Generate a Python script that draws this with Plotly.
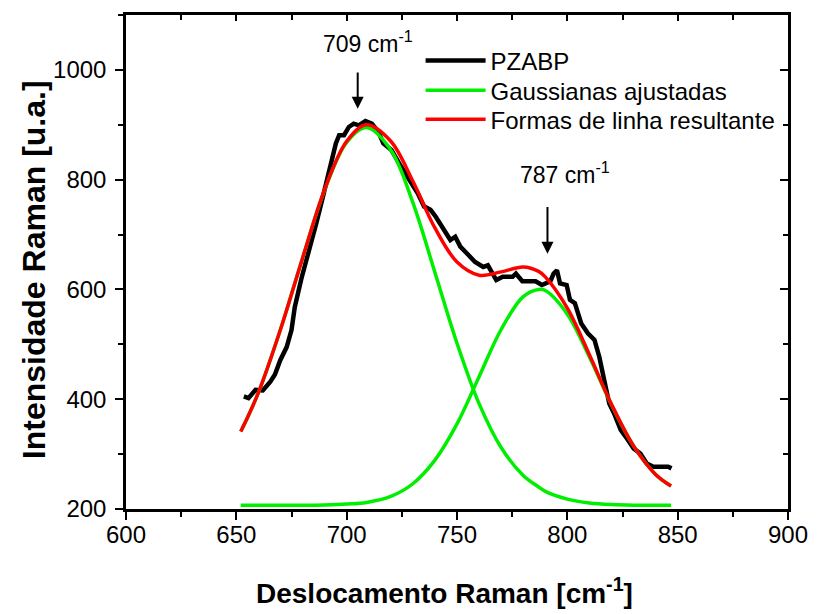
import plotly.graph_objects as go

# ---- data ----
pzabp_x = [653.4, 655.5, 658.7, 662.0, 665.4, 667.5, 669.9, 672.8, 675.0, 676.5, 679.5, 683.2,
           686.2, 689.0, 692.1, 695.1, 696.6, 698.8, 701.0, 703.2, 705.5, 708.5, 711.4, 714.4,
           716.6, 720.3, 724.8, 728.5, 732.2, 735.1, 738.0, 740.3, 744.0, 747.0, 749.2, 751.5,
           754.4, 758.2, 761.9, 764.0, 767.8, 770.7, 775.2, 776.7, 779.6, 785.6, 788.5, 792.3,
           793.8, 795.3, 796.7, 799.7, 801.2, 803.4, 806.3, 809.3, 812.3, 814.5, 816.7, 819.0,
           821.2, 824.2, 826.4, 830.1, 833.1, 836.0, 839.0, 842.7, 845.7, 847.2]
pzabp_y = [405, 402, 417, 416, 432, 445, 471, 495, 526, 568, 620, 672,
           720, 765, 817, 866, 881, 881, 896, 902, 899, 907, 902, 887,
           866, 854, 823, 799, 775, 751, 745, 733, 708, 690, 696, 678,
           666, 650, 641, 644, 617, 623, 623, 629, 615, 615, 608, 615,
           629, 635, 611, 608, 581, 575, 538, 520, 508, 477, 435, 392,
           374, 344, 332, 310, 301, 283, 277, 277, 277, 274]

fit_x = [652, 660, 670, 680, 690, 700, 709, 720, 730, 740, 750, 760, 770,
         780, 787, 790, 800, 810, 820, 830, 840, 847]
gauss1_y = [341, 412, 527, 657, 781, 868, 895, 854, 758, 631, 502, 392, 312,
            261, 240, 232, 218, 211, 208, 207, 207, 207]
gauss2_y = [207, 207, 207, 207, 207.5, 209, 212, 223, 246, 289, 355, 441, 527,
            587, 600, 598, 555, 477, 390, 315, 263, 242]
result_y = [341, 412, 527, 657, 782, 870, 900, 870, 797, 712, 650, 626, 632,
            641, 633, 623, 566, 481, 391, 315, 263, 242]

x_ticks = [600, 650, 700, 750, 800, 850, 900]
y_ticks = [200, 400, 600, 800, 1000]
peak_labels = ["709 cm<sup>-1</sup>", "787 cm<sup>-1</sup>"]
peak_arrow_x = [705, 791]
peak_arrow_tip = [929, 665]
peak_arrow_tail = [998, 753]
peak_text_x = [709.5, 799]
peak_text_y = [1050, 812]

FONT = "Liberation Sans, Arial, sans-serif"

fig = go.Figure()
fig.add_trace(go.Scatter(x=pzabp_x, y=pzabp_y, mode="lines", name="PZABP", legend="legend",
                         line=dict(color="black", width=4.5)))
fig.add_trace(go.Scatter(x=fit_x, y=gauss1_y, mode="lines", name="Gaussianas ajustadas",
                         legend="legend2", legendgroup="g",
                         line=dict(color="#00ee00", width=3.5, shape="spline")))
fig.add_trace(go.Scatter(x=fit_x, y=gauss2_y, mode="lines", name="Gaussianas ajustadas",
                         legend="legend2", legendgroup="g", showlegend=False,
                         line=dict(color="#00ee00", width=3.5, shape="spline")))
fig.add_trace(go.Scatter(x=fit_x, y=result_y, mode="lines", name="Formas de linha resultante",
                         legend="legend3",
                         line=dict(color="#ff0000", width=3.5, shape="spline")))
# dummy trace to activate mirrored axes with inward ticks
fig.add_trace(go.Scatter(x=[None], y=[None], xaxis="x2", yaxis="y2", showlegend=False,
                         hoverinfo="skip"))

for i in range(2):
    fig.add_annotation(x=peak_arrow_x[i], y=peak_arrow_tip[i], ax=peak_arrow_x[i],
                       ay=peak_arrow_tail[i], axref="x", ayref="y", xref="x", yref="y",
                       text="", showarrow=True, arrowhead=2, arrowsize=1.2, arrowwidth=2,
                       arrowcolor="black")
    fig.add_annotation(x=peak_text_x[i], y=peak_text_y[i], xref="x", yref="y",
                       text=peak_labels[i], showarrow=False,
                       font=dict(family=FONT, size=23, color="black"))

# axis titles
fig.add_annotation(x=0.4814, y=-0.166, xref="paper", yref="paper", showarrow=False,
                   xanchor="center", yanchor="middle",
                   text="<b>Deslocamento Raman [cm<sup>-1</sup>]</b>",
                   font=dict(family=FONT, size=28, color="black"))
fig.add_annotation(x=-0.1386, y=0.484, xref="paper", yref="paper", showarrow=False,
                   xanchor="center", yanchor="middle", textangle=-90,
                   text="<b>Intensidade Raman [u.a.]</b>",
                   font=dict(family=FONT, size=32, color="black"))

axis_common = dict(showline=True, linewidth=2.5, linecolor="black", showgrid=False,
                   zeroline=False, tickwidth=2, tickcolor="black", ticklen=8,
                   tickfont=dict(family=FONT, size=24, color="black"))

leg_common = dict(x=0.445, xanchor="left", yanchor="middle", bgcolor="rgba(0,0,0,0)",
                  font=dict(family=FONT, size=24, color="black"), itemwidth=60)

fig.update_layout(
    width=820, height=614,
    margin=dict(l=126, r=23, t=15, b=105),
    paper_bgcolor="white", plot_bgcolor="white",
    showlegend=True,
    legend=dict(y=0.907, **leg_common),
    legend2=dict(y=0.847, **leg_common),
    legend3=dict(y=0.788, **leg_common),
    xaxis=dict(range=[600, 900], tickvals=x_ticks, ticks="outside", ticklabelstandoff=-6,
               minor=dict(dtick=25, tick0=600, ticks="outside", ticklen=5, tickwidth=2,
                          tickcolor="black"),
               **axis_common),
    yaxis=dict(range=[200, 1100], tickvals=y_ticks, ticks="outside", ticklabelstandoff=4,
               minor=dict(dtick=100, tick0=200, ticks="outside", ticklen=5, tickwidth=2,
                          tickcolor="black"),
               **axis_common),
    xaxis2=dict(range=[600, 900], overlaying="x", side="top", anchor="y2",
                tickvals=x_ticks, ticks="inside", showticklabels=False, showgrid=False,
                zeroline=False, showline=True, linewidth=2.5, linecolor="black",
                tickwidth=2, tickcolor="black", ticklen=6,
                minor=dict(dtick=25, tick0=600, ticks="inside", ticklen=5, tickwidth=2,
                           tickcolor="black")),
    yaxis2=dict(range=[200, 1100], overlaying="y", side="right", anchor="x2",
                tickvals=y_ticks, ticks="inside", showticklabels=False, showgrid=False,
                zeroline=False, showline=True, linewidth=2.5, linecolor="black",
                tickwidth=2, tickcolor="black", ticklen=8,
                minor=dict(dtick=100, tick0=200, ticks="inside", ticklen=5, tickwidth=2,
                           tickcolor="black")),
)

fig.write_html("out.html", config={"displayModeBar": False},
               post_script="document.body.style.margin='0';")
